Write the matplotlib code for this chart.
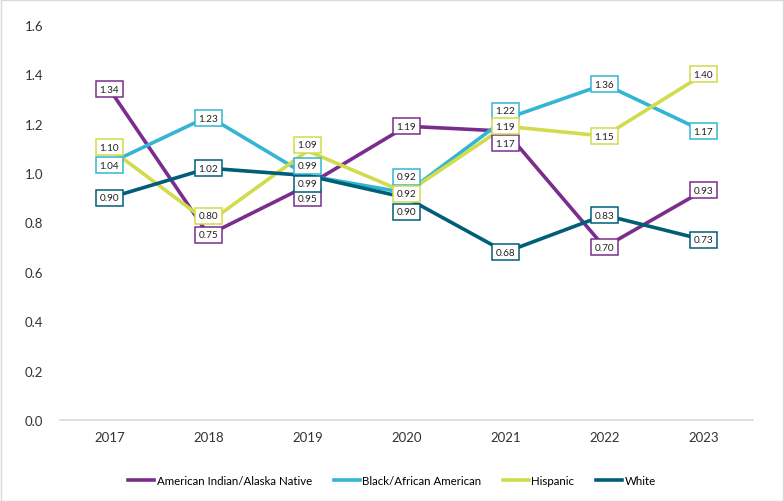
import matplotlib
matplotlib.use("Agg")
import matplotlib.pyplot as plt
from matplotlib.lines import Line2D

plt.rcParams['font.family'] = ['Lato', 'DejaVu Sans']

years = ["2017", "2018", "2019", "2020", "2021", "2022", "2023"]
aian = [1.34, 0.75, 0.95, 1.19, 1.17, 0.70, 0.93]
black = [1.04, 1.23, 0.99, 0.92, 1.22, 1.36, 1.17]
hispanic = [1.10, 0.80, 1.09, 0.92, 1.19, 1.15, 1.40]
white = [0.90, 1.02, 0.99, 0.90, 0.68, 0.83, 0.73]
names = ["American Indian/Alaska Native", "Black/African American", "Hispanic", "White"]
yticks = [0.0, 0.2, 0.4, 0.6, 0.8, 1.0, 1.2, 1.4, 1.6]

colors = ["#7B2D8E", "#33B5D3", "#D2DB4C", "#005E79"]
series = [aian, black, hispanic, white]

# label vertical offsets in pixels (style, to avoid overlaps)
offsets = [
    [0, 0, -13, 0, -12, 0, 0],
    [-2, -2, 10, 16, 8, 0, 0],
    [1, 7, 6, -1, 0, 0, 0],
    [0, 0, -8, -14, 0, 0, 0],
]

W, H = 784, 502
fig = plt.figure(figsize=(W / 100, H / 100), dpi=100)
ax = fig.add_axes([60 / W, 1 - 421 / H, (753 - 60) / W, (421 - 26) / H])

x = list(range(len(years)))
for i in range(4):
    ax.plot(x, series[i], color=colors[i], lw=2.6, solid_capstyle='round', zorder=2 + i * 0.1)

for i in range(4):
    for j, v in enumerate(series[i]):
        ax.annotate(f"{v:.2f}", (j, v), xytext=(0, offsets[i][j] * 0.72), textcoords='offset points',
                    ha='center', va='center', fontsize=7.2, color='#222222',
                    bbox=dict(boxstyle='square,pad=0.35', fc='white', ec=colors[i], lw=1.1),
                    zorder=5)

ax.set_xlim(-0.5, len(years) - 0.5)
ax.set_ylim(0, 1.6)
ax.set_yticks(yticks)
ax.set_yticklabels([f"{t:.1f}" for t in yticks], fontsize=9.5, color='#333333')
ax.set_xticks(x)
ax.set_xticklabels(years, fontsize=9.5, color='#333333')
ax.tick_params(axis='x', length=0, pad=8)
ax.tick_params(axis='y', length=0, pad=12)
for s in ['top', 'right', 'left']:
    ax.spines[s].set_visible(False)
ax.spines['bottom'].set_color('#D9D9D9')
ax.spines['bottom'].set_linewidth(1.2)

handles = [Line2D([0], [0], color=c, lw=2.6) for c in colors]
fig.legend(handles, names, loc='center', bbox_to_anchor=(0.5, 1 - 482 / H), ncol=4, frameon=False,
           fontsize=8.3, handlelength=2.25, columnspacing=1.9, handletextpad=0.2)

border = plt.Rectangle((0.5 / W, 0.5 / H), 1 - 1.5 / W, 1 - 1.5 / H, transform=fig.transFigure,
                       fill=False, ec='#D9D9D9', lw=1)
fig.patches.append(border)

fig.savefig("out.png", dpi=100)
